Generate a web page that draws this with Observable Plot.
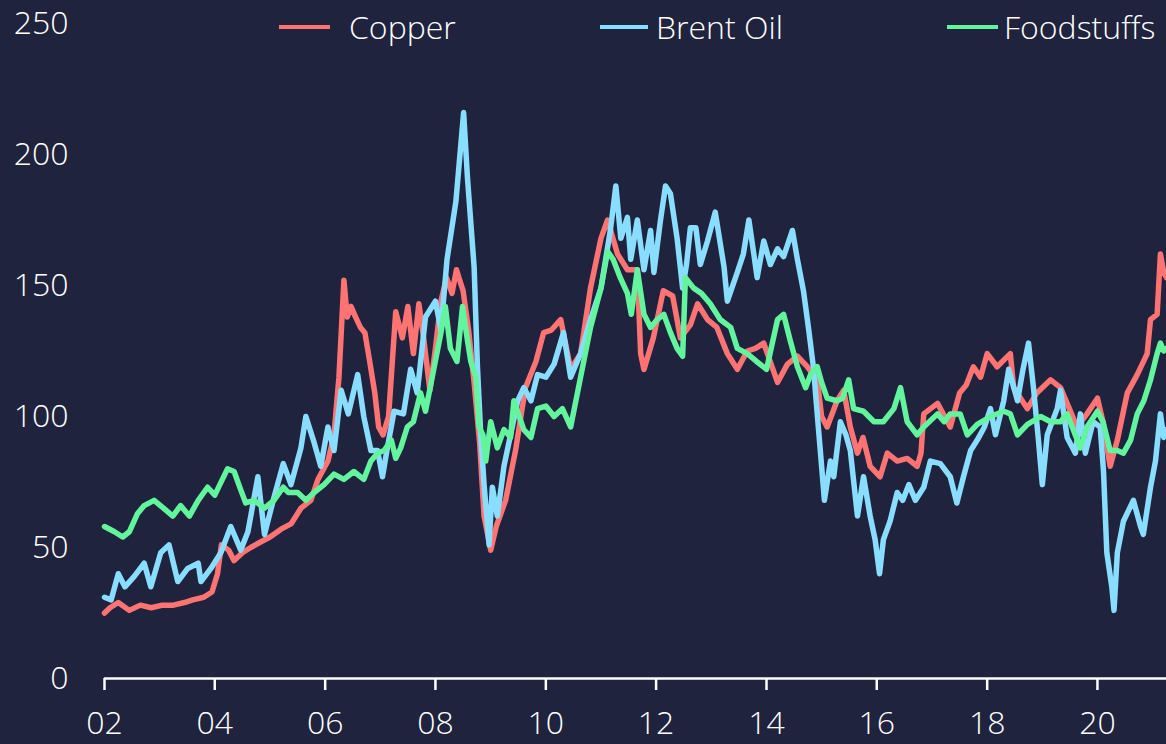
<!DOCTYPE html>
<html>
<head>
<meta charset="utf-8">
<script src="https://cdn.jsdelivr.net/npm/d3@7"></script>
<script src="https://cdn.jsdelivr.net/npm/@observablehq/plot@0.6"></script>
<style>
  html, body { margin: 0; padding: 0; background: #1f233d; }
  #wrap { position: relative; width: 1166px; height: 744px; overflow: hidden;
          font-family: "Open Sans", sans-serif; font-weight: 300; color: #fff; }
  #chart { position: absolute; left: 0; top: 0; }
  .sw { position: absolute; height: 4px; }
  .lt { position: absolute; font-size: 32px; line-height: 32px; white-space: nowrap; }
</style>
</head>
<body>
<div id="wrap">
  <div id="chart"></div>
  <div id="legend"></div>
</div>
<script>
// ---------- data (decimal year, index value) ----------
const seriesNames = ["Copper", "Brent Oil", "Foodstuffs"];
const seriesColors = ["#ff7373", "#89ddff", "#63f59e"];

const copperT = [2002.0,2002.1,2002.25,2002.45,2002.65,2002.85,2003.05,2003.25,2003.45,2003.6,2003.8,2003.95,2004.05,2004.12,2004.25,2004.35,2004.5,2004.65,2004.82,2005.0,2005.2,2005.38,2005.56,2005.74,2005.87,2006.05,2006.16,2006.25,2006.34,2006.4,2006.47,2006.55,2006.64,2006.72,2006.8,2006.9,2006.97,2007.05,2007.15,2007.28,2007.4,2007.5,2007.6,2007.7,2007.78,2007.9,2008.0,2008.1,2008.2,2008.3,2008.38,2008.5,2008.6,2008.7,2008.8,2008.88,2009.0,2009.1,2009.27,2009.45,2009.63,2009.82,2009.96,2010.1,2010.27,2010.45,2010.63,2010.81,2011.0,2011.12,2011.3,2011.48,2011.66,2011.72,2011.78,2011.95,2012.13,2012.3,2012.44,2012.62,2012.75,2012.93,2013.1,2013.29,2013.47,2013.65,2013.8,2013.95,2014.2,2014.38,2014.56,2014.74,2014.92,2015.0,2015.1,2015.28,2015.4,2015.52,2015.65,2015.75,2015.88,2016.06,2016.19,2016.37,2016.55,2016.73,2016.8,2016.85,2017.1,2017.33,2017.5,2017.62,2017.75,2017.88,2018.0,2018.18,2018.42,2018.48,2018.73,2018.9,2019.15,2019.33,2019.45,2019.63,2019.81,2020.0,2020.1,2020.23,2020.36,2020.54,2020.72,2020.9,2020.96,2021.08,2021.14,2021.2,2021.25];
const copperV = [25,27,29,26,28,27,28,28,29,30,31,33,40,51,49,45,48,50,52,54,57,59,65,68,76,83,93,115,152,138,142,138,134,132,122,109,96,93,100,140,130,142,124,143,131,110,126,144,153,147,156,148,133,113,90,62,49,58,68,87,111,121,132,133,137,118,124,149,168,175,162,156,156,124,118,130,148,146,130,135,143,137,134,124,118,125,126,128,113,120,123,119,114,100,96,106,110,96,86,92,81,77,86,83,84,81,86,101,105,96,109,112,119,115,124,119,124,111,103,109,114,111,105,96,101,107,98,81,91,109,116,124,137,139,162,155,153];

const brentT = [2002.0,2002.12,2002.25,2002.37,2002.54,2002.72,2002.84,2003.02,2003.17,2003.33,2003.51,2003.7,2003.75,2003.93,2004.11,2004.29,2004.47,2004.6,2004.78,2004.9,2005.07,2005.24,2005.38,2005.56,2005.65,2005.8,2005.92,2006.05,2006.16,2006.29,2006.42,2006.59,2006.7,2006.83,2006.95,2007.04,2007.12,2007.25,2007.42,2007.55,2007.67,2007.82,2008.0,2008.1,2008.21,2008.37,2008.51,2008.58,2008.7,2008.76,2008.82,2008.88,2008.97,2009.03,2009.12,2009.24,2009.36,2009.49,2009.6,2009.73,2009.85,2010.0,2010.15,2010.32,2010.45,2010.63,2010.81,2011.0,2011.17,2011.27,2011.36,2011.48,2011.54,2011.66,2011.78,2011.9,2011.96,2012.08,2012.17,2012.26,2012.38,2012.48,2012.55,2012.62,2012.72,2012.8,2012.93,2013.07,2013.23,2013.29,2013.47,2013.58,2013.68,2013.77,2013.83,2013.95,2014.07,2014.2,2014.31,2014.47,2014.56,2014.67,2014.76,2014.85,2014.92,2014.98,2015.05,2015.16,2015.22,2015.34,2015.44,2015.52,2015.65,2015.76,2015.88,2015.97,2016.05,2016.12,2016.24,2016.37,2016.47,2016.58,2016.7,2016.85,2016.97,2017.15,2017.33,2017.45,2017.57,2017.7,2017.82,2017.95,2018.06,2018.15,2018.3,2018.39,2018.55,2018.65,2018.75,2018.84,2018.93,2019.0,2019.09,2019.27,2019.33,2019.45,2019.6,2019.69,2019.78,2019.92,2020.05,2020.11,2020.17,2020.26,2020.3,2020.36,2020.47,2020.65,2020.78,2020.83,2020.96,2021.05,2021.14,2021.2,2021.25];
const brentV = [31,30,40,35,39,44,35,48,51,37,42,44,37,42,48,58,49,56,77,55,69,82,74,88,100,90,81,96,87,110,101,116,100,87,87,77,87,102,101,118,109,138,144,133,160,182,216,191,157,119,93,74,51,73,62,81,93,106,111,106,116,115,120,132,115,124,137,149,171,188,168,176,160,175,156,171,155,175,188,185,168,149,158,172,172,158,167,178,157,144,155,162,175,162,153,167,158,164,161,171,160,148,134,119,101,86,68,83,77,98,93,87,62,77,62,53,40,53,60,71,68,74,68,73,83,82,77,67,77,87,91,96,103,93,106,118,106,118,128,111,91,74,93,103,110,92,86,101,86,98,96,79,48,35,26,48,60,68,58,55,73,83,101,92,95];

const foodT = [2002.0,2002.18,2002.33,2002.45,2002.6,2002.72,2002.9,2003.07,2003.24,2003.38,2003.54,2003.7,2003.87,2004.0,2004.23,2004.35,2004.47,2004.56,2004.71,2004.9,2005.07,2005.24,2005.33,2005.5,2005.65,2005.8,2005.98,2006.16,2006.34,2006.52,2006.7,2006.83,2006.95,2007.07,2007.2,2007.28,2007.37,2007.49,2007.6,2007.73,2007.82,2007.97,2008.1,2008.18,2008.27,2008.39,2008.49,2008.58,2008.64,2008.73,2008.79,2008.86,2008.91,2009.0,2009.12,2009.24,2009.36,2009.42,2009.6,2009.73,2009.85,2010.0,2010.15,2010.3,2010.45,2010.63,2010.81,2011.0,2011.12,2011.22,2011.35,2011.48,2011.55,2011.66,2011.78,2011.9,2012.02,2012.14,2012.26,2012.38,2012.48,2012.53,2012.68,2012.82,2012.98,2013.16,2013.35,2013.47,2013.65,2013.82,2014.0,2014.2,2014.31,2014.43,2014.56,2014.71,2014.8,2014.92,2015.0,2015.1,2015.28,2015.38,2015.49,2015.58,2015.76,2015.95,2016.12,2016.31,2016.43,2016.55,2016.73,2016.85,2017.1,2017.22,2017.33,2017.51,2017.64,2017.82,2018.06,2018.3,2018.42,2018.55,2018.73,2018.97,2019.15,2019.33,2019.45,2019.56,2019.69,2019.81,2020.0,2020.1,2020.23,2020.36,2020.47,2020.6,2020.72,2020.84,2020.96,2021.08,2021.14,2021.2,2021.25];
const foodV = [58,56,54,56,63,66,68,65,62,66,62,68,73,70,80,79,72,67,68,65,68,73,71,71,68,71,74,78,76,79,76,83,86,87,91,84,88,96,98,109,102,118,132,142,126,121,142,129,121,115,96,93,83,98,88,95,92,106,95,92,103,104,100,103,96,115,134,149,163,160,153,147,139,156,139,134,137,139,132,126,123,153,149,147,143,137,134,126,124,121,118,137,139,129,119,111,116,119,113,107,106,107,114,103,102,98,98,103,111,98,93,96,101,98,101,101,93,97,100,102,101,93,97,100,98,98,101,95,88,96,102,98,87,87,86,91,101,106,114,124,128,125,126];

const xTickYears = [2002, 2004, 2006, 2008, 2010, 2012, 2014, 2016, 2018, 2020];
const yTicks = [0, 50, 100, 150, 200, 250];
const xDomainYears = [2002.0, 2021.25];

// ---------- helpers ----------
const toDate = t => {
  const y = Math.floor(t);
  const s = Date.UTC(y, 0, 1), e = Date.UTC(y + 1, 0, 1);
  return new Date(s + (t - y) * (e - s));
};
const seriesT = [copperT, brentT, foodT];
const seriesV = [copperV, brentV, foodV];
const rows = [];
seriesNames.forEach((name, k) => {
  seriesT[k].forEach((t, i) => rows.push({series: name, date: toDate(t), value: seriesV[k][i]}));
});

const chart = Plot.plot({
  width: 1166,
  height: 744,
  marginLeft: 104,
  marginRight: 0,
  marginTop: 23,
  marginBottom: 66,
  style: {background: "transparent", color: "#ffffff", fontFamily: "'Open Sans', sans-serif",
          fontSize: "32px", fontWeight: 300, overflow: "visible"},
  x: {type: "utc", domain: xDomainYears.map(toDate)},
  y: {domain: [0, 250]},
  color: {domain: seriesNames, range: seriesColors},
  marks: [
    Plot.axisY({ticks: yTicks, tickSize: 0, tickPadding: 36, label: null}),
    Plot.axisX({ticks: xTickYears.map(toDate), tickFormat: d3.utcFormat("%y"), tickSize: 12,
                tickPadding: 21, label: null, strokeWidth: 2.5}),
    Plot.ruleY([0], {stroke: "#ffffff", strokeWidth: 2.5}),
    Plot.line(rows, {x: "date", y: "value", z: "series", stroke: "series", strokeWidth: 5.5,
                     strokeLinejoin: "round", strokeLinecap: "round"})
  ]
});
document.getElementById("chart").appendChild(chart);

// ---------- legend (HTML, overlaid at the top) ----------
const legendPos = [
  {sw: 279, swW: 51, tx: 349},
  {sw: 600, swW: 48, tx: 656},
  {sw: 947, swW: 51, tx: 1004}
];
const legend = document.getElementById("legend");
seriesNames.forEach((name, i) => {
  const sw = document.createElement("div");
  sw.className = "sw";
  sw.style.left = legendPos[i].sw + "px";
  sw.style.width = legendPos[i].swW + "px";
  sw.style.top = "25px";
  sw.style.background = seriesColors[i];
  legend.appendChild(sw);
  const tx = document.createElement("div");
  tx.className = "lt";
  tx.style.left = legendPos[i].tx + "px";
  tx.style.top = "11px";
  tx.textContent = name;
  legend.appendChild(tx);
});
</script>
</body>
</html>
